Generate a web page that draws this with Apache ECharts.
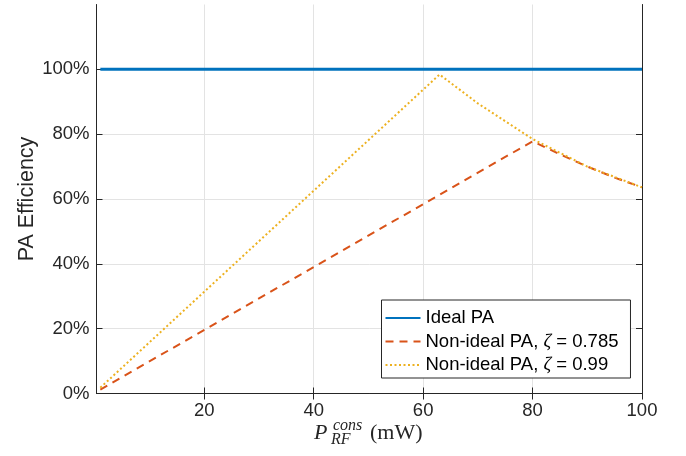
<!DOCTYPE html>
<html>
<head>
<meta charset="utf-8">
<script src="https://cdn.jsdelivr.net/npm/echarts@6/dist/echarts.min.js"></script>
<style>html,body{margin:0;padding:0;background:#fff}#c{width:686px;height:456px}</style>
</head>
<body>
<div id="c"></div>
<script>
// ---- data ----
const xTicks = [20, 40, 60, 80, 100];
const yTicks = [0, 0.2, 0.4, 0.6, 0.8, 1.0];
const seriesNames = ['Ideal PA', 'Non-ideal PA, ζ = 0.785', 'Non-ideal PA, ζ = 0.99'];
const idealX = [1, 100];
const idealY = [1.0, 1.0];
const z785X = [1, 80, 85, 90, 95, 100];
const z785Y = [0.012, 0.778, 0.738, 0.700, 0.666, 0.636];
const z99X = [1, 63, 70, 80, 90, 100];
const z99Y = [0.018, 0.984, 0.895, 0.785, 0.700, 0.636];

const FONT = '"Liberation Sans", Arial, Helvetica, sans-serif';
const SERIF = '"Liberation Serif", "Times New Roman", serif';
const AX = '#262626';
const GRID = '#e3e3e3';

function pairs(xs, ys) { return xs.map((x, i) => [x, ys[i]]); }

const chart = echarts.init(document.getElementById('c'), null, {renderer: 'canvas'});

const commonX = {
  type: 'value', min: 0.3, max: 100,
  axisLine: {show: true, lineStyle: {color: AX, width: 1}},
  axisTick: {show: true, inside: true, length: 6, customValues: xTicks, lineStyle: {color: AX}},
  splitLine: {show: false},
  axisLabel: {show: false}
};
const commonY = {
  type: 'value', min: 0, max: 1.2,
  axisLine: {show: true, lineStyle: {color: AX, width: 1}},
  axisTick: {show: true, inside: true, length: 6, customValues: yTicks, lineStyle: {color: AX}},
  splitLine: {show: false},
  axisLabel: {show: false}
};

chart.setOption({
  animation: false,
  backgroundColor: '#fff',
  grid: {left: 96.5, right: 44, top: 4.5, bottom: 62.5, containLabel: false},
  xAxis: [
    Object.assign({}, commonX, {
      position: 'bottom',
      splitLine: {show: true, lineStyle: {color: GRID, width: 1}},
      axisLabel: {show: true, customValues: xTicks, color: AX, fontFamily: FONT, fontSize: 18.5, margin: 8}
    }),
    Object.assign({}, commonX, {position: 'top'})
  ],
  yAxis: [
    Object.assign({}, commonY, {
      position: 'left',
      name: 'PA Efficiency', nameLocation: 'middle', nameGap: 58, nameMoveOverlap: false,
      nameTextStyle: {color: AX, fontFamily: FONT, fontSize: 21.5},
      splitLine: {show: true, lineStyle: {color: GRID, width: 1}},
      axisLabel: {show: true, customValues: yTicks, color: AX, fontFamily: FONT, fontSize: 18.5, margin: 7,
        formatter: v => Math.round(v * 100) + '%'}
    }),
    Object.assign({}, commonY, {position: 'right'})
  ],
  legend: {
    orient: 'vertical', left: 381.5, top: 300,
    data: seriesNames,
    itemWidth: 35, itemHeight: 14, itemGap: 3.5,
    padding: [8, 12, 3, 3],
    itemStyle: {opacity: 0},
    backgroundColor: '#fff', borderColor: AX, borderWidth: 1, borderRadius: 0,
    textStyle: {color: '#000', fontFamily: FONT, fontSize: 18.5, lineHeight: 20,
      rich: {z: {fontFamily: SERIF, fontStyle: 'italic', fontSize: 19, color: '#000'}}},
    formatter: n => n.replace('ζ', '{z|ζ}')
  },
  series: [
    {name: seriesNames[0], type: 'line', data: pairs(idealX, idealY), symbol: 'none',
      lineStyle: {color: '#0072BD', width: 3}, itemStyle: {color: '#0072BD'}, z: 3},
    {name: seriesNames[1], type: 'line', data: pairs(z785X, z785Y), symbol: 'none',
      lineStyle: {color: '#D95319', width: 2, type: [8, 6]}, itemStyle: {color: '#D95319'}, z: 2},
    {name: seriesNames[2], type: 'line', data: pairs(z99X, z99Y), symbol: 'none',
      lineStyle: {color: '#EDB120', width: 2, type: [2, 2.5]}, itemStyle: {color: '#EDB120'}, z: 4}
  ],
  graphic: [
    {type: 'text', left: 314, top: 422.5, style: {text: 'P', font: 'italic 22px ' + SERIF, fill: AX}},
    {type: 'text', left: 333, top: 418, style: {text: 'cons', font: 'italic 16px ' + SERIF, fill: AX}},
    {type: 'text', left: 331, top: 432, style: {text: 'RF', font: 'italic 16px ' + SERIF, fill: AX}},
    {type: 'text', left: 370, top: 422, style: {text: '(mW)', font: '22px ' + SERIF, fill: AX}}
  ]
});
</script>
</body>
</html>
